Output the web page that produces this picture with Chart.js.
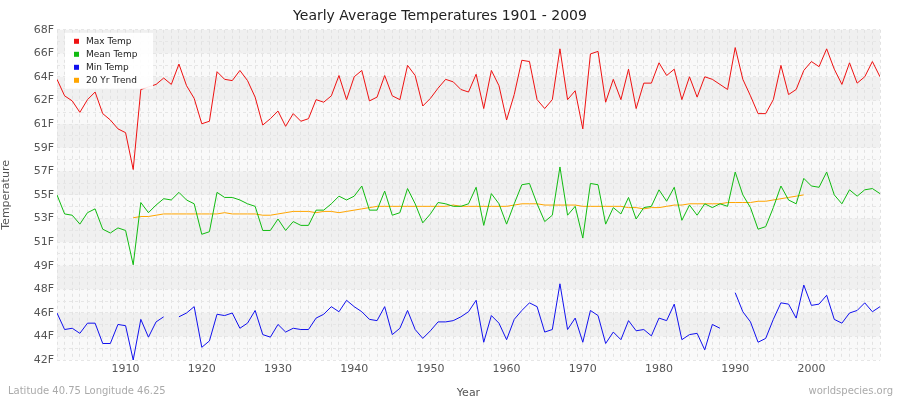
<!DOCTYPE html>
<html>
<head>
<meta charset="utf-8">
<script src="https://cdn.jsdelivr.net/npm/chart.js@4.4.1/dist/chart.umd.min.js"></script>
<style>
  body { margin: 0; background: #fff; }
</style>
</head>
<body>
<canvas id="temps-chart" width="900" height="400"></canvas>
<script>
const firstYear = 1901;
const lastYear = 2009;

const maxTemp = [
  64.1, 62.8, 62.4, 61.5, 62.5, 63.1, 61.4, 60.9, 60.2, 59.9,
  57.0, 63.3, 63.5, 63.7, 64.2, 63.7, 65.3, 63.6, 62.6, 60.6,
  60.8, 64.7, 64.1, 64.0, 64.8, 64.0, 62.7, 60.5, 61.0, 61.6,
  60.4, 61.4, 60.8, 61.0, 62.5, 62.3, 62.8, 64.4, 62.5, 64.3,
  64.8, 62.4, 62.7, 64.4, 62.8, 62.5, 65.2, 64.4, 62.0, 62.6,
  63.4, 64.1, 63.9, 63.3, 63.1, 64.5, 61.8, 64.8, 63.6, 60.9,
  62.9, 65.6, 65.5, 62.5, 61.8, 62.5, 66.5, 62.5, 63.2, 60.2,
  66.1, 66.3, 62.3, 64.1, 62.5, 64.9, 61.8, 63.8, 63.8, 65.4,
  64.4, 64.9, 62.5, 64.3, 62.7, 64.3, 64.1, 63.7, 63.3, 66.6,
  64.1, 62.8, 61.4, 61.4, 62.5, 65.2, 62.9, 63.3, 64.8, 65.5,
  65.1, 66.5, 64.9, 63.7, 65.4, 63.8, 64.3, 65.5, 64.3
];

const meanTemp = [
  55.0, 53.5, 53.4, 52.7, 53.6, 53.9, 52.3, 52.0, 52.4, 52.2,
  49.5, 54.4, 53.6, 54.2, 54.7, 54.6, 55.2, 54.6, 54.3, 51.9,
  52.1, 55.2, 54.8, 54.8, 54.6, 54.3, 54.1, 52.2, 52.2, 53.1,
  52.2, 52.9, 52.6, 52.6, 53.8, 53.8, 54.3, 54.9, 54.6, 54.9,
  55.7, 53.8, 53.8, 55.3, 53.4, 53.6, 55.5, 54.3, 52.8, 53.5,
  54.4, 54.3, 54.1, 54.1, 54.3, 55.6, 52.6, 55.1, 54.3, 52.7,
  54.3, 55.8, 55.9, 54.3, 52.9, 53.4, 57.2, 53.4, 54.1, 51.6,
  55.9, 55.8, 52.7, 54.0, 53.5, 54.8, 53.1, 54.0, 54.1, 55.4,
  54.5, 55.6, 53.0, 54.2, 53.4, 54.3, 54.0, 54.3, 54.1, 56.8,
  55.0, 54.0, 52.3, 52.5, 54.0, 55.7, 54.6, 54.3, 56.3, 55.7,
  55.6, 56.8, 55.0, 54.3, 55.4, 54.9, 55.4, 55.5, 55.1
];

const minTemp = [
  45.7, 44.4, 44.5, 44.1, 44.9, 44.9, 43.3, 43.3, 44.8, 44.7,
  42.0, 45.2, 43.8, 45.0, 45.4, null, 45.4, 45.7, 46.2, 43.0,
  43.5, 45.6, 45.5, 45.7, 44.5, 44.9, 45.9, 44.0, 43.8, 44.8,
  44.2, 44.5, 44.4, 44.4, 45.3, 45.6, 46.2, 45.8, 46.7, 46.2,
  45.8, 45.2, 45.1, 46.2, 44.0, 44.5, 45.9, 44.4, 43.7, 44.3,
  45.0, 45.0, 45.1, 45.4, 45.8, 46.7, 43.4, 45.5, 44.9, 43.6,
  45.2, 45.9, 46.5, 46.2, 44.2, 44.4, 48.0, 44.4, 45.3, 43.4,
  45.9, 45.5, 43.3, 44.2, 43.6, 45.1, 44.3, 44.4, 43.9, 45.3,
  45.1, 46.4, 43.6, 44.0, 44.1, 42.8, 44.8, 44.5, null, 47.3,
  45.8, 45.0, 43.4, 43.7, 45.2, 46.5, 46.4, 45.3, 47.9, 46.3,
  46.4, 47.1, 45.2, 44.9, 45.7, 45.9, 46.5, 45.8, 46.2
];

// 20 year trend runs 1911 - 1999
const trendStart = 1911;
const trendTemp = [
  53.2, 53.3, 53.3, 53.4, 53.5, 53.5, 53.5, 53.5, 53.5, 53.5,
  53.5, 53.5, 53.6, 53.5, 53.5, 53.5, 53.5, 53.4, 53.4, 53.5,
  53.6, 53.7, 53.7, 53.7, 53.6, 53.7, 53.7, 53.6, 53.7, 53.8,
  53.9, 54.0, 54.1, 54.1, 54.1, 54.1, 54.1, 54.1, 54.1, 54.1,
  54.1, 54.1, 54.2, 54.1, 54.1, 54.1, 54.1, 54.1, 54.1, 54.1,
  54.2, 54.3, 54.3, 54.3, 54.2, 54.2, 54.2, 54.2, 54.2, 54.1,
  54.1, 54.1, 54.1, 54.1, 54.1, 54.0, 54.0, 53.9, 54.0, 54.0,
  54.1, 54.2, 54.2, 54.3, 54.3, 54.3, 54.3, 54.3, 54.4, 54.4,
  54.4, 54.4, 54.5, 54.5, 54.6, 54.7, 54.8, 54.9, 55.0
];

const seriesLabels = ["Max Temp", "Mean Temp", "Min Temp", "20 Yr Trend"];
const seriesColors = ["#ee1111", "#11bb11", "#1111ee", "#ffa500"];

const yMin = 42;
const yMax = 68;
const yStep = (yMax - yMin) / 14;

function toPoints(values, start)
{
  return values.map((v, i) => ({ x: start + i, y: v }));
}

// Alternating bands behind the plot
const bandsPlugin = {
  id: "bands",
  beforeDraw(chart)
  {
    const { ctx, chartArea: a, scales: { y } } = chart;
    ctx.save();
    ctx.fillStyle = "#f9f9f9";
    ctx.fillRect(a.left, a.top, a.width, a.height);
    ctx.fillStyle = "#f0f0f0";
    for (let i = 0; i < 14; i++)
    {
      if (i % 2 === 0) continue;
      const y1 = y.getPixelForValue(yMin + i * yStep);
      const y2 = y.getPixelForValue(yMin + (i + 1) * yStep);
      ctx.fillRect(a.left, y2, a.width, y1 - y2);
    }
    ctx.restore();
  }
};

// Legend inside the plot and footer texts
const extrasPlugin = {
  id: "extras",
  afterDraw(chart)
  {
    const { ctx, chartArea: a } = chart;
    ctx.save();
    ctx.font = "9px 'DejaVu Sans'";
    ctx.textBaseline = "middle";
    ctx.fillStyle = "rgba(255,255,255,0.9)";
    ctx.fillRect(a.left + 8, a.top + 3, 88, 56);
    seriesLabels.forEach((label, i) =>
    {
      const yy = a.top + 12 + i * 13;
      ctx.fillStyle = seriesColors[i];
      ctx.fillRect(a.left + 17, yy - 3, 5, 5);
      ctx.fillStyle = "#222";
      ctx.textAlign = "left";
      ctx.fillText(label, a.left + 29, yy);
    });
    ctx.fillStyle = "#aaa";
    ctx.font = "10px 'DejaVu Sans'";
    ctx.fillText("Latitude 40.75 Longitude 46.25", 8, 391);
    ctx.textAlign = "right";
    ctx.fillText("worldspecies.org", 893, 391);
    ctx.restore();
  }
};

const years = [];
for (let yr = firstYear; yr <= lastYear; yr++) years.push(yr);

const datasets = [maxTemp, meanTemp, minTemp].map((vals, i) => ({
  label: seriesLabels[i],
  data: toPoints(vals, firstYear),
  borderColor: seriesColors[i],
  borderWidth: 1,
  pointRadius: 0,
  spanGaps: false
}));
datasets.push({
  label: seriesLabels[3],
  data: toPoints(trendTemp, trendStart),
  borderColor: seriesColors[3],
  borderWidth: 1,
  pointRadius: 0
});

new Chart(document.getElementById("temps-chart"),
  {
    type: "line",
    data: { datasets },
    plugins: [bandsPlugin, extrasPlugin],
    options: {
      responsive: false,
      animation: false,
      devicePixelRatio: 1,
      layout: { padding: { left: 0, right: 20, top: 0, bottom: 0 } },
      plugins: {
        legend: { display: false },
        tooltip: { enabled: false },
        title: {
          display: true,
          text: "Yearly Average Temperatures 1901 - 2009",
          color: "#222",
          font: { family: "DejaVu Sans", size: 14, weight: "normal" },
          padding: { top: 8, bottom: 5 }
        }
      },
      scales: {
        x: {
          type: "linear",
          min: firstYear,
          max: lastYear,
          afterBuildTicks: axis =>
          {
            axis.ticks = years.map(v => ({ value: v }));
          },
          afterFit: axis => { axis.height = 40; },
          ticks: {
            autoSkip: false,
            maxRotation: 0,
            color: "#555",
            font: { family: "DejaVu Sans", size: 11 },
            callback: v => (v % 10 === 0 ? String(v) : "")
          },
          grid: {
            color: "#e2e2e2",
            drawTicks: false,
            lineWidth: 1
          },
          border: { display: false, dash: [3, 3] },
          title: {
            display: true,
            text: "Year",
            color: "#555",
            font: { family: "DejaVu Sans", size: 11 },
            padding: 0
          }
        },
        y: {
          min: yMin,
          max: yMax,
          afterBuildTicks: axis =>
          {
            const t = [];
            for (let i = 0; i <= 28; i++) t.push({ value: yMin + i * yStep / 2 });
            axis.ticks = t;
          },
          afterFit: axis => { axis.width = 57; },
          ticks: {
            autoSkip: false,
            color: "#555",
            font: { family: "DejaVu Sans", size: 11 },
            callback: (v, i) => (i % 2 === 0 ? Math.round(v) + "F" : "")
          },
          grid: { color: "#e6e6e6", drawTicks: false },
          border: { display: false, dash: [3, 3] },
          title: {
            display: true,
            text: "Temperature",
            color: "#555",
            font: { family: "DejaVu Sans", size: 11 },
            padding: 0
          }
        }
      }
    }
  });
</script>
</body>
</html>
